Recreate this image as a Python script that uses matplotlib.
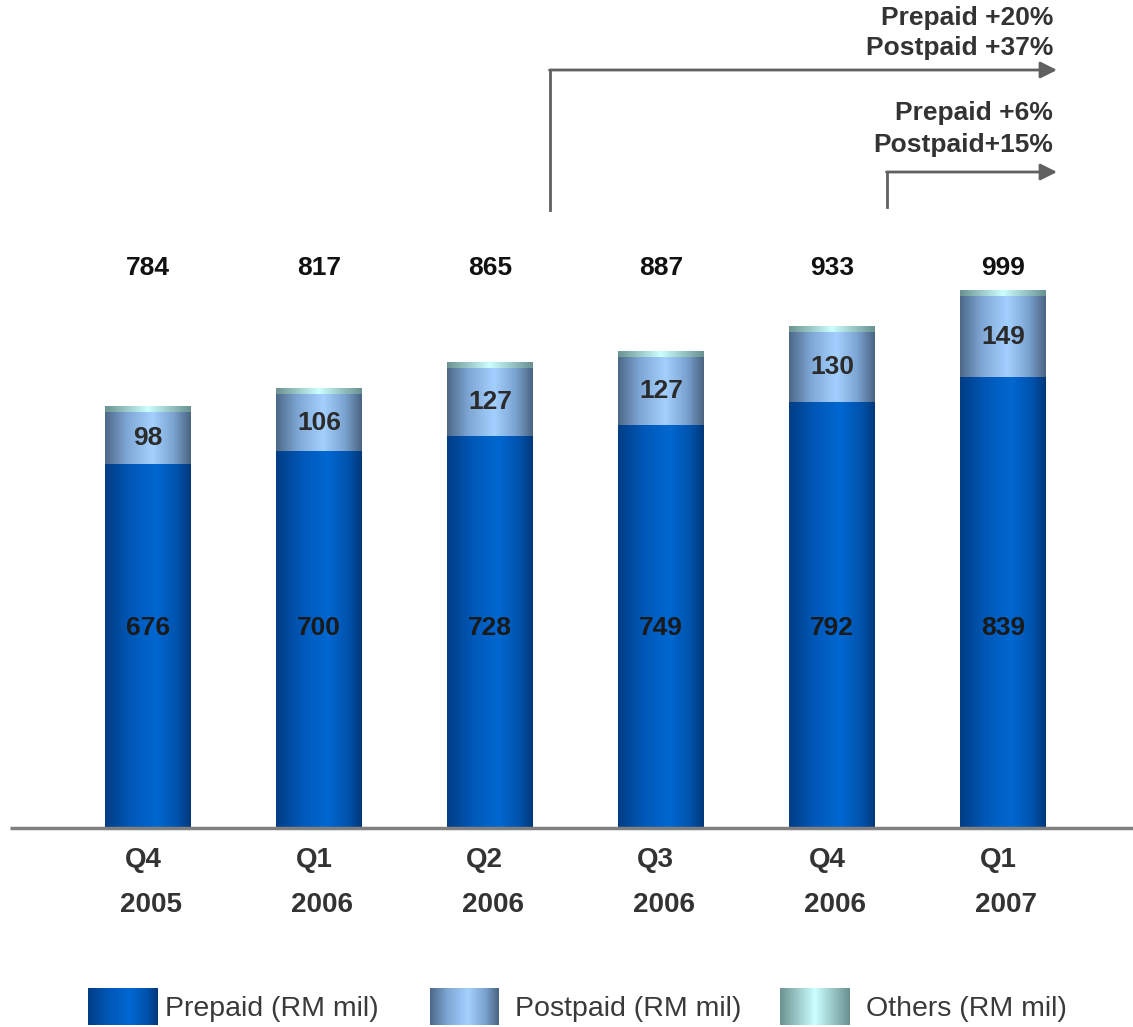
import numpy as np
import matplotlib
matplotlib.use("Agg")
import matplotlib.pyplot as plt
from matplotlib.colors import LinearSegmentedColormap

plt.rcParams['font.family'] = ['Liberation Sans', 'DejaVu Sans']

quarters = ["Q4", "Q1", "Q2", "Q3", "Q4", "Q1"]
years = ["2005", "2006", "2006", "2006", "2006", "2007"]
prepaid = [676, 700, 728, 749, 792, 839]
postpaid = [98, 106, 127, 127, 130, 149]
totals = [784, 817, 865, 887, 933, 999]
others = [t - a - b for t, a, b in zip(totals, prepaid, postpaid)]

growth_long = ["Prepaid +20%", "Postpaid +37%"]
growth_short = ["Prepaid +6%", "Postpaid+15%"]
legend_labels = ["Prepaid (RM mil)", "Postpaid (RM mil)", "Others (RM mil)"]

W, H = 1133, 1027
fig = plt.figure(figsize=(W / 100, H / 100), dpi=100)
ax = fig.add_axes([0, 0, 1, 1])

#pixel layout: bar centres 148 + 171*i, baseline at y=828, ~0.538 px per unit
px_unit = 0.538

def px_x(p):
    return (p - 148) / 171

def px_y(p):
    return (828 - p) / px_unit

ax.axis('off')

cmaps = [
    LinearSegmentedColormap.from_list('pre', [(0, '#003d85'), (0.3, '#0058b8'), (0.6, '#0068d2'), (0.85, '#0052aa'), (1, '#00387a')]),
    LinearSegmentedColormap.from_list('post', [(0, '#4c6888'), (0.25, '#7ea6d4'), (0.55, '#a4d0ff'), (0.8, '#7ba3d0'), (1, '#4a6482')]),
    LinearSegmentedColormap.from_list('oth', [(0, '#6a9391'), (0.5, '#ccffff'), (1, '#689190')]),
]
grad = np.linspace(0, 1, 256).reshape(1, -1)

x = np.arange(len(quarters))
width = 0.5
bottoms = np.zeros(len(x))
for vals, cm in zip([prepaid, postpaid, others], cmaps):
    bars = ax.bar(x, vals, width, bottom=bottoms, color='none', edgecolor='none')
    for b in bars:
        ax.imshow(grad, cmap=cm, aspect='auto', interpolation='bilinear',
                  extent=(b.get_x(), b.get_x() + b.get_width(), b.get_y(), b.get_y() + b.get_height()),
                  zorder=2)
    bottoms += np.array(vals)

ax.set_xlim(px_x(0), px_x(W))
ax.set_ylim(px_y(H), px_y(0))

# baseline
ax.plot([px_x(10), px_x(W)], [0, 0], color='#808080', lw=2.5, zorder=3, solid_capstyle='butt')

txt = dict(ha='center', va='center', fontweight='bold')
for i in range(len(x)):
    ax.text(x[i], px_y(628), str(prepaid[i]), fontsize=19, zorder=4, color='#1a1a1a', **txt)
    ax.text(x[i], prepaid[i] + postpaid[i] / 2, str(postpaid[i]), fontsize=19, zorder=4, color='#2b2b2b', **txt)
    ax.text(x[i], px_y(268), str(totals[i]), fontsize=19, color='#111111', **txt)
    ax.text(x[i] - 0.03, px_y(860), quarters[i], fontsize=20, color='#333333', **txt)
    ax.text(x[i] + 0.02, px_y(905), years[i], fontsize=20, color='#333333', **txt)

# growth arrows
arrow_c = '#606060'
ax.plot([px_x(550), px_x(550)], [px_y(210), px_y(70)], color=arrow_c, lw=2)
ax.annotate('', xy=(px_x(1057), px_y(70)), xytext=(px_x(549.5), px_y(70)),
            arrowprops=dict(arrowstyle='-|>,head_length=1.0,head_width=0.5', color=arrow_c, lw=2, shrinkA=0, shrinkB=0))
ax.plot([px_x(887), px_x(887)], [px_y(207), px_y(172)], color=arrow_c, lw=2)
ax.annotate('', xy=(px_x(1057), px_y(172)), xytext=(px_x(886.5), px_y(172)),
            arrowprops=dict(arrowstyle='-|>,head_length=1.0,head_width=0.5', color=arrow_c, lw=2, shrinkA=0, shrinkB=0))

rt = dict(ha='right', va='center', fontweight='bold', color='#333333', fontsize=19)
ax.text(px_x(1053), px_y(18), growth_long[0], **rt)
ax.text(px_x(1053), px_y(48), growth_long[1], **rt)
ax.text(px_x(1053), px_y(113), growth_short[0], **rt)
ax.text(px_x(1053), px_y(145), growth_short[1], **rt)

# legend with gradient swatches
swatch_x = [88, 430, 780]
text_x = [165, 515, 866]
for sx, tx, cm, lab in zip(swatch_x, text_x, cmaps, legend_labels):
    lax = fig.add_axes([sx / W, (H - 1025) / H, 69 / W, 37 / H])
    lax.imshow(grad, cmap=cm, aspect='auto', interpolation='bilinear')
    lax.axis('off')
    fig.text(tx / W, (H - 1009) / H, lab, ha='left', va='center', fontsize=20.5, color='#3a3a3a')

fig.savefig('out.png', dpi=100)
